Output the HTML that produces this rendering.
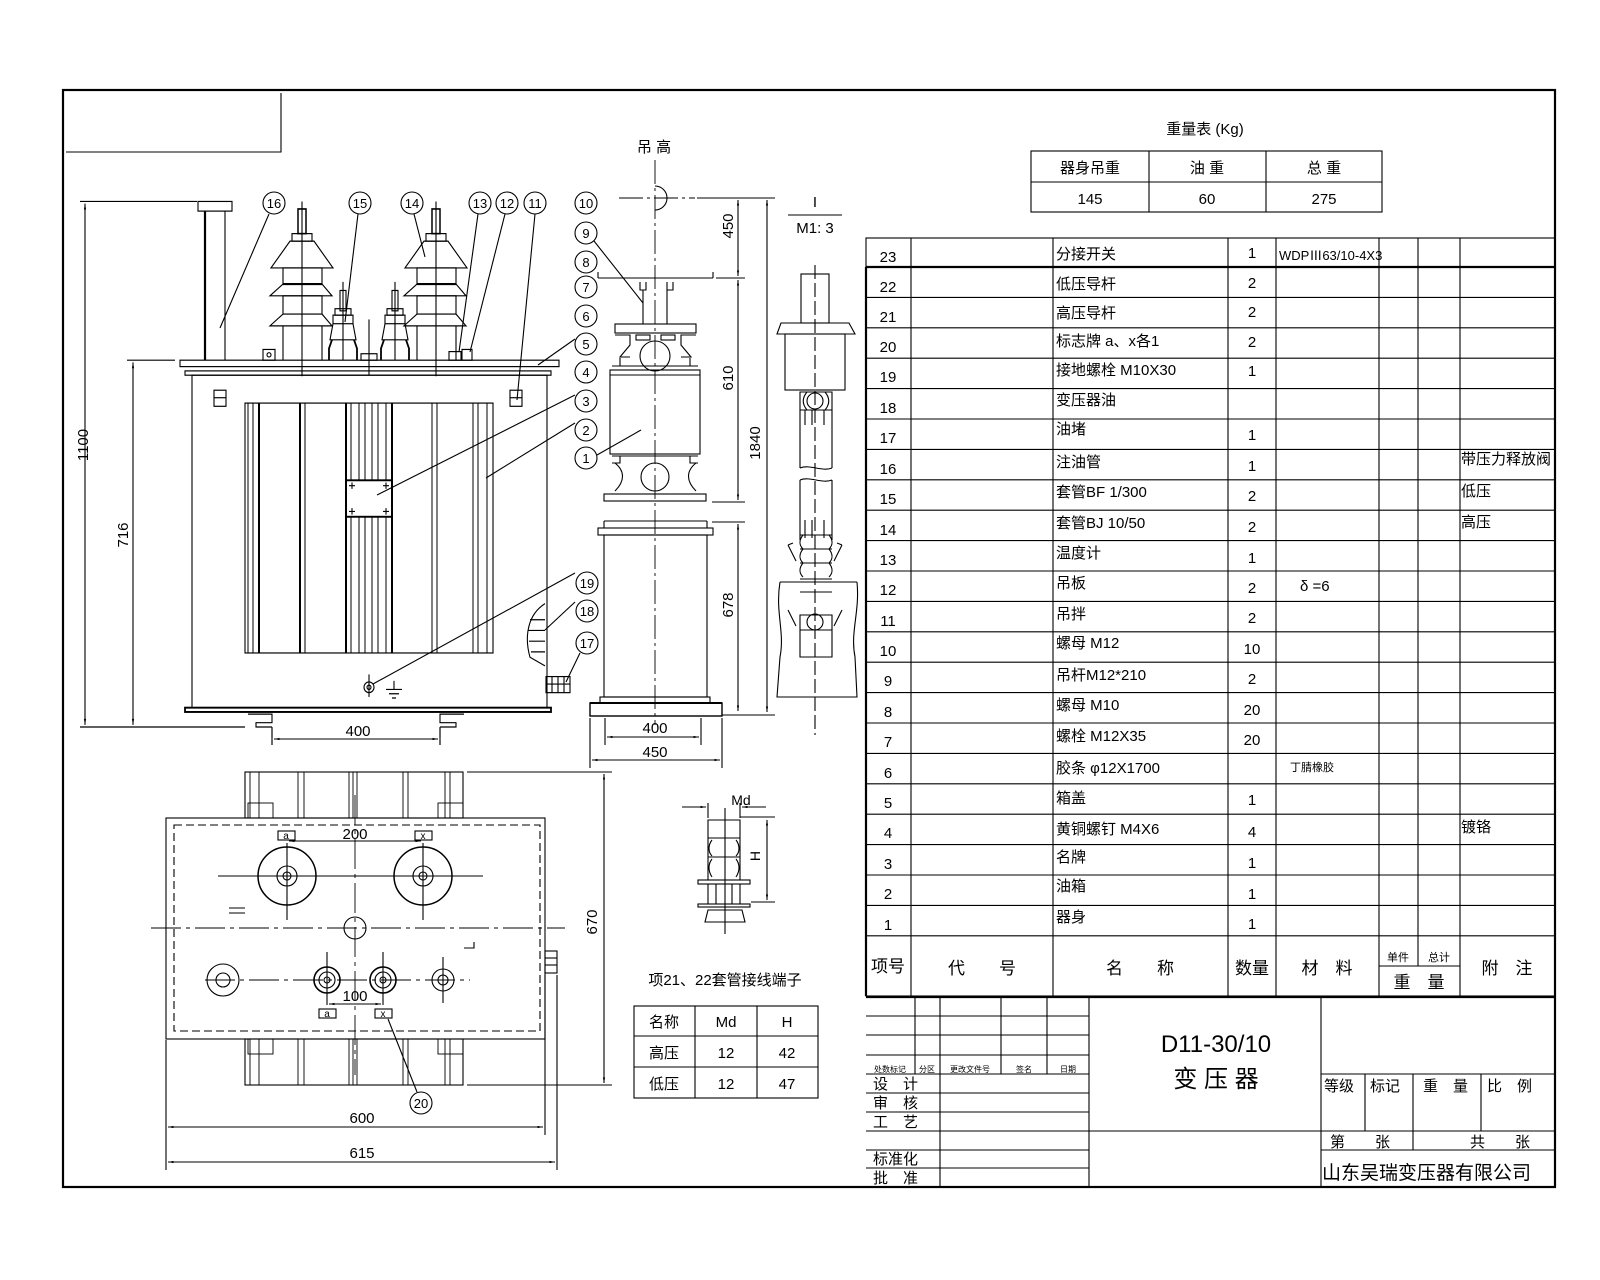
<!DOCTYPE html>
<html><head><meta charset="utf-8"><style>
html,body{margin:0;padding:0;background:#fff;}
svg{display:block;}
text{font-family:"Liberation Sans","Noto Sans CJK SC",sans-serif;fill:#000;}
</style></head><body>
<svg width="1600" height="1280" viewBox="0 0 1600 1280" xmlns="http://www.w3.org/2000/svg">
<defs>
<marker id="a" viewBox="0 0 10 10" refX="10" refY="5" markerWidth="8" markerHeight="5" orient="auto-start-reverse"><path d="M0,3 L10,5 L0,7z" fill="#000"/></marker>
</defs>
<g stroke="#000" fill="none" stroke-width="1.1">
<!-- border -->
<rect x="63" y="90" width="1492" height="1097" stroke-width="2.2"/>
<polyline points="66,152 281,152 281,93"/>

<!-- ========== FRONT VIEW ========== -->
<g transform="translate(0,180) scale(1,1.0725) translate(0,-180)">
<line x1="80" y1="200" x2="197" y2="200"/>
<line x1="80" y1="690" x2="245" y2="690"/>
<line x1="85" y1="202" x2="85" y2="688" marker-start="url(#a)" marker-end="url(#a)"/>
<line x1="127" y1="348" x2="175" y2="348"/>
<line x1="133" y1="350" x2="133" y2="688" marker-start="url(#a)" marker-end="url(#a)"/>
<rect x="198" y="200" width="34" height="9"/>
<line x1="205" y1="209" x2="205" y2="348" stroke-width="2.2"/>
<line x1="225" y1="209" x2="225" y2="348"/>
<rect x="180" y="348" width="379" height="6"/>
<rect x="185" y="358" width="366" height="4"/>
<rect x="192" y="362" width="355" height="310"/>
<rect x="185" y="672" width="366" height="4" stroke-width="1.8"/>
<path d="M248,678 h24 v8 h-16 v4 h16 M464,678 h-24 v8 h16 v4 h-16"/>
<line x1="272" y1="690" x2="272" y2="700"/><line x1="440" y1="690" x2="440" y2="700"/>
<rect x="245" y="388" width="248" height="233"/>
<g stroke-width="1">
<line x1="248" y1="388" x2="248" y2="621"/><line x1="253" y1="388" x2="253" y2="621"/><line x1="259" y1="388" x2="259" y2="621" stroke-width="2"/>
<line x1="300" y1="388" x2="300" y2="621" stroke-width="2"/><line x1="305" y1="388" x2="305" y2="621"/>
<line x1="346" y1="388" x2="346" y2="621" stroke-width="2"/><line x1="351" y1="388" x2="351" y2="460"/><line x1="359" y1="388" x2="359" y2="460"/><line x1="365" y1="388" x2="365" y2="460"/><line x1="372" y1="388" x2="372" y2="460"/><line x1="378" y1="388" x2="378" y2="460"/><line x1="386" y1="388" x2="386" y2="460"/><line x1="392" y1="388" x2="392" y2="621" stroke-width="2"/>
<line x1="351" y1="494" x2="351" y2="621"/><line x1="359" y1="494" x2="359" y2="621"/><line x1="365" y1="494" x2="365" y2="621"/><line x1="372" y1="494" x2="372" y2="621"/><line x1="378" y1="494" x2="378" y2="621"/><line x1="386" y1="494" x2="386" y2="621"/>
<line x1="432" y1="388" x2="432" y2="621"/><line x1="437" y1="388" x2="437" y2="621"/>
<line x1="473" y1="388" x2="473" y2="621"/><line x1="478" y1="388" x2="478" y2="621"/><line x1="487" y1="388" x2="487" y2="621"/>
</g>
<rect x="346" y="460" width="46" height="34" stroke-width="1.8"/>
<path d="M349,465h6M352,462v6M383,465h6M386,462v6M349,489h6M352,486v6M383,489h6M386,486v6"/>
<rect x="214" y="376" width="12" height="15"/><line x1="214" y1="383" x2="226" y2="383"/>
<rect x="510" y="376" width="12" height="15"/><line x1="510" y1="383" x2="522" y2="383"/>
<circle cx="369" cy="653" r="5"/><circle cx="369" cy="653" r="2"/><line x1="369" y1="641" x2="369" y2="662"/>
<path d="M394,647v8M386,655h16M389,659h10M392,663h4"/>
<path d="M545,575 C528,585 524,605 530,625 L545,633"/>
<path d="M530,590h15M528,600h17M529,610h16M531,620h14"/>
<rect x="546" y="643" width="24" height="15"/><path d="M552,643v15M558,643v15M564,643v15M546,650h24"/>
<g id="hv">
<rect x="298" y="207" width="8" height="23" stroke-width="1.5"/>
<rect x="292" y="230" width="20" height="7"/>
<path d="M290,237 h24 l19,25 h-62z"/>
<rect x="283" y="262" width="39" height="15"/><line x1="283" y1="277" x2="322" y2="277" stroke-width="2"/>
<path d="M283,277 l-13,11 h62 l-10,-11"/>
<rect x="283" y="288" width="39" height="17"/>
<path d="M283,305 l-13,11 h62 l-10,-11"/>
<line x1="283" y1="316" x2="283" y2="348"/><line x1="322" y1="316" x2="322" y2="348"/>
<line x1="302" y1="200" x2="302" y2="363"/>
</g>
<use href="#hv" transform="translate(134,0)"/>
<g id="lv">
<rect x="340" y="283" width="6" height="19"/>
<rect x="335" y="300" width="16" height="6"/><rect x="333" y="306" width="20" height="8"/>
<path d="M333,314 l-3,15 h26 l-3,-15"/>
<path d="M332,329 l-3,8 v11 M354,329 l3,8 v11" stroke-width="1.8"/>
<line x1="343" y1="275" x2="343" y2="348"/>
</g>
<use href="#lv" transform="translate(52,0)"/>
<rect x="263" y="338" width="12" height="10"/><circle cx="269" cy="343" r="2"/>
<rect x="361" y="342" width="16" height="6"/><line x1="369" y1="310" x2="369" y2="362"/>
<rect x="449" y="340" width="12" height="8"/><rect x="462" y="338" width="10" height="10"/>
</g>
<!-- 400 dim -->
<line x1="272" y1="740" x2="272" y2="745"/><line x1="440" y1="740" x2="440" y2="745"/>
<line x1="272" y1="728" x2="272" y2="745"/><line x1="440" y1="728" x2="440" y2="745"/>
<line x1="274" y1="739" x2="438" y2="739" marker-start="url(#a)" marker-end="url(#a)"/>
<!-- callouts front -->
<g>
<circle cx="274" cy="203" r="11"/><circle cx="360" cy="203" r="11"/><circle cx="412" cy="203" r="11"/>
<circle cx="480" cy="203" r="11"/><circle cx="507" cy="203" r="11"/><circle cx="535" cy="203" r="11"/>
<line x1="269" y1="214" x2="220" y2="328"/><line x1="358" y1="214" x2="345" y2="322"/>
<line x1="414" y1="214" x2="425" y2="257"/><line x1="478" y1="214" x2="459" y2="352"/>
<line x1="505" y1="214" x2="470" y2="352"/><line x1="535" y1="214" x2="517" y2="400"/>
<line x1="575" y1="339" x2="538" y2="365"/><line x1="575" y1="395" x2="377" y2="495"/>
<line x1="575" y1="423" x2="486" y2="478"/><line x1="575" y1="573" x2="373" y2="684"/>
<line x1="575" y1="602" x2="545" y2="630"/><line x1="580" y1="653" x2="566" y2="682"/>
</g>

<!-- ========== SECTION VIEW ========== -->
<g stroke-dasharray="24,4,3,4" stroke-width="0.9">
<line x1="655" y1="160" x2="655" y2="725"/>
<line x1="619" y1="198" x2="695" y2="198"/>
</g>
<path d="M655,186 a12,12 0 0 1 0,24" />
<line x1="697" y1="198" x2="775" y2="198"/>
<line x1="598" y1="278" x2="713" y2="278"/><line x1="716" y1="278" x2="745" y2="278"/>
<line x1="598" y1="272" x2="598" y2="278"/><line x1="713" y1="272" x2="713" y2="278"/>
<line x1="738" y1="200" x2="738" y2="276" marker-start="url(#a)" marker-end="url(#a)"/>
<line x1="738" y1="280" x2="738" y2="500" marker-start="url(#a)" marker-end="url(#a)"/>
<line x1="767" y1="200" x2="767" y2="712" marker-start="url(#a)" marker-end="url(#a)"/>
<line x1="712" y1="502" x2="745" y2="502"/><line x1="712" y1="522" x2="745" y2="522"/>
<line x1="738" y1="524" x2="738" y2="711" marker-start="url(#a)" marker-end="url(#a)"/>
<line x1="722" y1="715" x2="775" y2="715"/>
<path d="M640,282v8h6v-8M667,282v8h6v-8"/>
<line x1="643" y1="290" x2="643" y2="324"/><line x1="667" y1="290" x2="667" y2="324"/>
<rect x="615" y="324" width="81" height="9"/>
<rect x="636" y="335" width="14" height="5"/><rect x="661" y="335" width="14" height="5"/>
<path d="M615,335h15v10l-10,12h10 M696,335h-15v10l10,12h-10"/>
<circle cx="655" cy="356" r="15"/>
<path d="M620,358v8h-5 M690,358v8h5 M612,366h86"/>
<rect x="610" y="370" width="90" height="84"/><line x1="610" y1="375" x2="700" y2="375"/>
<path d="M612,456h86 M620,456v7h-8 M690,456v7h8"/>
<circle cx="655" cy="477" r="14"/>
<path d="M615,463 c10,8 10,18 0,28 M696,463 c-10,8 -10,18 0,28"/>
<rect x="604" y="494" width="102" height="7"/>
<line x1="604" y1="521" x2="707" y2="521"/><line x1="604" y1="521" x2="604" y2="528"/><line x1="707" y1="521" x2="707" y2="528"/>
<rect x="598" y="528" width="115" height="7"/>
<rect x="604" y="535" width="103" height="162"/>
<rect x="600" y="697" width="110" height="6"/>
<rect x="590" y="703" width="132" height="13" stroke-width="1.4"/>
<line x1="590" y1="703" x2="722" y2="703" stroke-width="2"/>
<line x1="605" y1="718" x2="605" y2="745"/><line x1="701" y1="718" x2="701" y2="745"/>
<line x1="607" y1="737" x2="699" y2="737" marker-start="url(#a)" marker-end="url(#a)"/>
<line x1="590" y1="718" x2="590" y2="768"/><line x1="722" y1="718" x2="722" y2="768"/>
<line x1="592" y1="760" x2="720" y2="760" marker-start="url(#a)" marker-end="url(#a)"/>
<g>
<circle cx="586" cy="203" r="11"/><circle cx="586" cy="233" r="11"/><circle cx="586" cy="262" r="11"/>
<circle cx="586" cy="287" r="11"/><circle cx="586" cy="316" r="11"/><circle cx="586" cy="344" r="11"/>
<circle cx="586" cy="372" r="11"/><circle cx="586" cy="401" r="11"/><circle cx="586" cy="430" r="11"/>
<circle cx="586" cy="458" r="11"/>
<circle cx="587" cy="583" r="11"/><circle cx="587" cy="611" r="11"/><circle cx="587" cy="643" r="11"/>
<line x1="594" y1="241" x2="643" y2="303"/><line x1="597" y1="455" x2="641" y2="430"/>
</g>
<!-- detail I -->
<line x1="788" y1="215" x2="842" y2="215"/>
<line x1="815" y1="265" x2="815" y2="735" stroke-dasharray="14,4"/>
<rect x="801" y="274" width="28" height="49"/>
<path d="M781,323 h68 l6,11 h-78z"/>
<rect x="785" y="334" width="60" height="56"/>
<path d="M800,392 h32 v18 h-32z M807,392 c-5,6 -5,12 0,18 M825,392 c5,6 5,12 0,18"/><circle cx="815" cy="401" r="8"/>
<path d="M800,410 v58 M832,410 v58 M805,410v15 M812,410v15 M824,410v15"/>
<path d="M800,468 c10,-4 22,4 32,0 M800,480 c10,-4 22,4 32,0"/>
<path d="M800,480 v60 M832,480 v60 M805,520 v18 M812,520 v18 M824,520 v18"/>
<path d="M800,535 h32 M800,549 h32 M800,563 h32 M800,579 h32 M800,592 h32"/>
<path d="M788,545 l8,16 M842,545 l-8,16 M788,545 l5,-2 M842,545 l-5,-2"/>
<path d="M803,535 c-4,5 -4,10 0,14 M829,535 c4,5 4,10 0,14 M803,549 c-4,5 -4,10 0,14 M829,549 c4,5 4,10 0,14 M803,563 c-4,5 -4,10 0,14 M829,563 c4,5 4,10 0,14"/>
<path d="M780,582 h77 M780,582 c-5,30 5,50 0,75 l-3,40 h80 l-2,-40 c-5,-25 5,-45 2,-75"/>
<path d="M788,610 l8,16 M842,610 l-8,16 M800,615 h32 v42 h-32z M800,630 h32 M805,657 h22"/>
<circle cx="815" cy="622" r="8"/>

<!-- ========== PLAN VIEW ========== -->
<rect x="245" y="772" width="218" height="46"/>
<rect x="245" y="1039" width="218" height="46"/>
<g stroke-width="0.9">
<path d="M250,772v46M259,772v46M298,772v46M304,772v46M349,772v46M353,772v46M357,772v46M403,772v46M408,772v46M445,772v46M450,772v46"/>
<path d="M250,1039v46M259,1039v46M298,1039v46M304,1039v46M349,1039v46M353,1039v46M357,1039v46M403,1039v46M408,1039v46M445,1039v46M450,1039v46"/>
<rect x="248" y="803" width="25" height="15"/><rect x="438" y="803" width="25" height="15"/>
<rect x="248" y="1039" width="25" height="15"/><rect x="438" y="1039" width="25" height="15"/>
</g>
<rect x="166" y="818" width="379" height="221"/>
<rect x="174" y="825" width="366" height="206" stroke-dasharray="8,4"/>
<g stroke-dasharray="30,5,4,5" stroke-width="0.9">
<line x1="151" y1="928" x2="565" y2="928"/>
<line x1="355" y1="795" x2="355" y2="1075"/>
<line x1="205" y1="980" x2="470" y2="980"/>
</g>
<circle cx="287" cy="876" r="29" stroke-width="1.5"/><circle cx="287" cy="876" r="10"/><circle cx="287" cy="876" r="4"/>
<circle cx="423" cy="876" r="29" stroke-width="1.5"/><circle cx="423" cy="876" r="10"/><circle cx="423" cy="876" r="4"/>
<line x1="218" y1="876" x2="483" y2="876"/><line x1="287" y1="843" x2="287" y2="920"/><line x1="423" y1="843" x2="423" y2="920"/>
<circle cx="355" cy="928" r="11"/>
<circle cx="223" cy="980" r="16"/><circle cx="223" cy="980" r="7"/>
<circle cx="327" cy="980" r="13" stroke-width="1.6"/><circle cx="327" cy="980" r="8"/><circle cx="327" cy="980" r="3"/>
<circle cx="383" cy="980" r="13" stroke-width="1.6"/><circle cx="383" cy="980" r="8"/><circle cx="383" cy="980" r="3"/>
<circle cx="443" cy="980" r="11"/><circle cx="443" cy="980" r="5"/>
<line x1="327" y1="952" x2="327" y2="1005"/><line x1="383" y1="952" x2="383" y2="1005"/><line x1="443" y1="957" x2="443" y2="1003"/>
<path d="M229,908h16M229,913h16 M464,948h10v-6"/>
<rect x="278" y="831" width="17" height="9"/><rect x="415" y="831" width="17" height="9"/>
<line x1="289" y1="841" x2="421" y2="841" marker-start="url(#a)" marker-end="url(#a)"/>
<rect x="319" y="1009" width="17" height="9"/><rect x="375" y="1009" width="17" height="9"/>
<line x1="329" y1="1004" x2="381" y2="1004" marker-start="url(#a)" marker-end="url(#a)"/>
<rect x="545" y="951" width="12" height="22"/><line x1="545" y1="958" x2="557" y2="958"/><line x1="545" y1="965" x2="557" y2="965"/>
<line x1="467" y1="772" x2="612" y2="772"/><line x1="467" y1="1085" x2="612" y2="1085"/>
<line x1="604" y1="774" x2="604" y2="1083" marker-start="url(#a)" marker-end="url(#a)"/>
<line x1="166" y1="1040" x2="166" y2="1170"/><line x1="545" y1="975" x2="545" y2="1135"/><line x1="557" y1="975" x2="557" y2="1170"/>
<line x1="168" y1="1127" x2="543" y2="1127" marker-start="url(#a)" marker-end="url(#a)"/>
<line x1="168" y1="1162" x2="555" y2="1162" marker-start="url(#a)" marker-end="url(#a)"/>
<circle cx="421" cy="1103" r="11"/><line x1="388" y1="1019" x2="417" y2="1092"/>

<!-- Md detail -->
<line x1="682" y1="807" x2="706" y2="807" marker-end="url(#a)"/><line x1="766" y1="807" x2="742" y2="807" marker-end="url(#a)"/>
<line x1="708" y1="803" x2="708" y2="818"/><line x1="740" y1="803" x2="740" y2="818"/>
<line x1="740" y1="817" x2="775" y2="817"/><line x1="751" y1="902" x2="775" y2="902"/>
<line x1="767" y1="820" x2="767" y2="900" marker-start="url(#a)" marker-end="url(#a)"/>
<path d="M708,820 h32 v60 h-32z M708,838 h32 M708,857 h32"/>
<path d="M712,840 c-4,5 -4,12 0,16 M736,840 c4,5 4,12 0,16 M712,859 c-4,5 -4,12 0,18 M736,859 c4,5 4,12 0,18"/>
<rect x="698" y="880" width="52" height="4"/><rect x="698" y="904" width="52" height="3"/>
<path d="M708,884v20 M740,884v20 M716,884v20 M732,884v20 M708,910 l-3,12 h40 l-3,-12z"/>
<line x1="725" y1="808" x2="725" y2="934"/>

<!-- terminal table -->
<rect x="634" y="1006" width="184" height="92"/>
<line x1="634" y1="1036" x2="818" y2="1036"/><line x1="634" y1="1067" x2="818" y2="1067"/>
<line x1="695" y1="1006" x2="695" y2="1098"/><line x1="757" y1="1006" x2="757" y2="1098"/>

<!-- weight table -->
<rect x="1031" y="151" width="351" height="61"/>
<line x1="1031" y1="182" x2="1382" y2="182"/><line x1="1149" y1="151" x2="1149" y2="212"/><line x1="1266" y1="151" x2="1266" y2="212"/>

<!-- parts list -->
<rect x="866" y="238" width="689" height="758"/>
<line x1="866" y1="267" x2="1555" y2="267" stroke-width="2.2"/>
<line x1="866" y1="267" x2="866" y2="996" stroke-width="2.2"/>
<g>
<line x1="866" y1="297.4" x2="1555" y2="297.4"/><line x1="866" y1="327.8" x2="1555" y2="327.8"/><line x1="866" y1="358.2" x2="1555" y2="358.2"/>
<line x1="866" y1="388.6" x2="1555" y2="388.6"/><line x1="866" y1="419" x2="1555" y2="419"/><line x1="866" y1="449.4" x2="1555" y2="449.4"/>
<line x1="866" y1="479.8" x2="1555" y2="479.8"/><line x1="866" y1="510.2" x2="1555" y2="510.2"/><line x1="866" y1="540.6" x2="1555" y2="540.6"/>
<line x1="866" y1="571" x2="1555" y2="571"/><line x1="866" y1="601.4" x2="1555" y2="601.4"/><line x1="866" y1="631.8" x2="1555" y2="631.8"/>
<line x1="866" y1="662.2" x2="1555" y2="662.2"/><line x1="866" y1="692.6" x2="1555" y2="692.6"/><line x1="866" y1="723" x2="1555" y2="723"/>
<line x1="866" y1="753.4" x2="1555" y2="753.4"/><line x1="866" y1="783.8" x2="1555" y2="783.8"/><line x1="866" y1="814.2" x2="1555" y2="814.2"/>
<line x1="866" y1="844.6" x2="1555" y2="844.6"/><line x1="866" y1="875" x2="1555" y2="875"/><line x1="866" y1="905.4" x2="1555" y2="905.4"/>
<line x1="866" y1="935.8" x2="1555" y2="935.8"/>
</g>
<path d="M911,238v758 M1053,238v758 M1228,238v758 M1276,238v758 M1379,238v758 M1418,238v728 M1460,238v758"/>
<line x1="1379" y1="966" x2="1460" y2="966"/>
<!-- title block -->
<line x1="866" y1="997" x2="1555" y2="997" stroke-width="2.2"/>
<path d="M866,1016h223 M866,1035h223 M866,1055h223 M866,1074h223 M866,1093h223 M866,1112h223 M866,1131h223 M866,1150h223 M866,1168h223"/>
<path d="M915,997v77 M940,997v190 M1001,997v77 M1047,997v77 M1089,997v190 M1321,997v190"/>
<path d="M1089,1131h466 M1321,1074h234 M1321,1150h234 M1365,1074v57 M1413,1074v76 M1481,1074v57"/>
</g>

<!-- ========== TEXT ========== -->
<g font-size="15">
<text x="88" y="445" transform="rotate(-90 88 445)" text-anchor="middle">1100</text>
<text x="128" y="535" transform="rotate(-90 128 535)" text-anchor="middle">716</text>
<text x="358" y="736" text-anchor="middle">400</text>
<text x="745" y="238" transform="rotate(-90 733 238)" text-anchor="middle">450</text>
<text x="745" y="390" transform="rotate(-90 733 390)" text-anchor="middle">610</text>
<text x="772" y="455" transform="rotate(-90 760 455)" text-anchor="middle">1840</text>
<text x="745" y="617" transform="rotate(-90 733 617)" text-anchor="middle">678</text>
<text x="655" y="733" text-anchor="middle">400</text>
<text x="655" y="757" text-anchor="middle">450</text>
<text x="355" y="839" text-anchor="middle">200</text>
<text x="355" y="1001" text-anchor="middle">100</text>
<text x="362" y="1123" text-anchor="middle">600</text>
<text x="362" y="1158" text-anchor="middle">615</text>
<text x="603" y="928" transform="rotate(-90 597 928)" text-anchor="middle">670</text>
<text x="741" y="805" text-anchor="middle" font-size="14">Md</text>
<text x="766" y="862" transform="rotate(-90 760 862)" text-anchor="middle" font-size="14">H</text>
<text x="654" y="152" text-anchor="middle">吊 高</text>
<text x="815" y="207" text-anchor="middle">I</text>
<text x="815" y="233" text-anchor="middle">M1: 3</text>
<text x="725" y="985" text-anchor="middle">项21、22套管接线端子</text>
</g>
<g font-size="10" text-anchor="middle">
<text x="286" y="839">a</text><text x="423" y="839">x</text><text x="327" y="1017">a</text><text x="383" y="1017">x</text>
</g>
<g font-size="13" text-anchor="middle">
<text x="274" y="208">16</text><text x="360" y="208">15</text><text x="412" y="208">14</text><text x="480" y="208">13</text><text x="507" y="208">12</text><text x="535" y="208">11</text>
<text x="586" y="208">10</text><text x="586" y="238">9</text><text x="586" y="267">8</text><text x="586" y="292">7</text><text x="586" y="321">6</text><text x="586" y="349">5</text><text x="586" y="377">4</text><text x="586" y="406">3</text><text x="586" y="435">2</text><text x="586" y="463">1</text>
<text x="587" y="588">19</text><text x="587" y="616">18</text><text x="587" y="648">17</text><text x="421" y="1108">20</text>
</g>
<g font-size="15" text-anchor="middle">
<text x="664" y="1027">名称</text><text x="726" y="1027">Md</text><text x="787" y="1027">H</text>
<text x="664" y="1058">高压</text><text x="726" y="1058">12</text><text x="787" y="1058">42</text>
<text x="664" y="1089">低压</text><text x="726" y="1089">12</text><text x="787" y="1089">47</text>
<text x="1205" y="134">重量表 (Kg)</text>
<text x="1090" y="173">器身吊重</text><text x="1207" y="173">油 重</text><text x="1324" y="173">总 重</text>
<text x="1090" y="204">145</text><text x="1207" y="204">60</text><text x="1324" y="204">275</text>
</g>
<g font-size="15">
<g text-anchor="middle">
<text x="888" y="262">23</text><text x="888" y="292">22</text><text x="888" y="322">21</text><text x="888" y="352">20</text><text x="888" y="382">19</text><text x="888" y="413">18</text><text x="888" y="443">17</text><text x="888" y="474">16</text><text x="888" y="504">15</text><text x="888" y="535">14</text><text x="888" y="565">13</text><text x="888" y="595">12</text><text x="888" y="626">11</text><text x="888" y="656">10</text><text x="888" y="686">9</text><text x="888" y="717">8</text><text x="888" y="747">7</text><text x="888" y="778">6</text><text x="888" y="808">5</text><text x="888" y="838">4</text><text x="888" y="869">3</text><text x="888" y="899">2</text><text x="888" y="930">1</text>
<text x="1252" y="258">1</text><text x="1252" y="288">2</text><text x="1252" y="317">2</text><text x="1252" y="347">2</text><text x="1252" y="376">1</text><text x="1252" y="440">1</text><text x="1252" y="471">1</text><text x="1252" y="501">2</text><text x="1252" y="532">2</text><text x="1252" y="563">1</text><text x="1252" y="593">2</text><text x="1252" y="623">2</text><text x="1252" y="654">10</text><text x="1252" y="684">2</text><text x="1252" y="715">20</text><text x="1252" y="745">20</text><text x="1252" y="805">1</text><text x="1252" y="837">4</text><text x="1252" y="868">1</text><text x="1252" y="899">1</text><text x="1252" y="929">1</text>
</g>
<text x="1056" y="259">分接开关</text><text x="1056" y="289">低压导杆</text><text x="1056" y="318">高压导杆</text><text x="1056" y="346">标志牌  a、x各1</text><text x="1056" y="375">接地螺栓 M10X30</text><text x="1056" y="405">变压器油</text><text x="1056" y="434">油堵</text><text x="1056" y="467">注油管</text><text x="1056" y="497">套管BF 1/300</text><text x="1056" y="528">套管BJ 10/50</text><text x="1056" y="558">温度计</text><text x="1056" y="588">吊板</text><text x="1056" y="619">吊拌</text><text x="1056" y="648">螺母 M12</text><text x="1056" y="680">吊杆M12*210</text><text x="1056" y="710">螺母 M10</text><text x="1056" y="741">螺栓 M12X35</text><text x="1056" y="773">胶条 φ12X1700</text><text x="1056" y="803">箱盖</text><text x="1056" y="834">黄铜螺钉 M4X6</text><text x="1056" y="862">名牌</text><text x="1056" y="891">油箱</text><text x="1056" y="922">器身</text>
<text x="1279" y="260" font-size="13">WDPⅢ63/10-4X3</text>
<text x="1300" y="591">δ =6</text>
<text x="1290" y="771" font-size="11">丁腈橡胶</text>
<text x="1461" y="464">带压力释放阀</text><text x="1461" y="496">低压</text><text x="1461" y="527">高压</text><text x="1461" y="832">镀铬</text>
</g>
<g font-size="17" text-anchor="middle">
<text x="888" y="972">项号</text><text x="982" y="974">代　　号</text><text x="1140" y="974">名　　称</text><text x="1252" y="974">数量</text><text x="1327" y="974">材　料</text><text x="1419" y="988">重　量</text><text x="1507" y="974">附　注</text>
<text x="1398" y="961" font-size="11">单件</text><text x="1439" y="961" font-size="11">总计</text>
</g>
<g font-size="8" text-anchor="middle"><text x="890" y="1072">处数标记</text><text x="927" y="1072">分区</text><text x="970" y="1072">更改文件号</text><text x="1024" y="1072">签名</text><text x="1068" y="1072">日期</text></g>
<g font-size="15">
<text x="873" y="1089">设　计</text><text x="873" y="1108">审　核</text><text x="873" y="1127">工　艺</text><text x="873" y="1164">标准化</text><text x="873" y="1183">批　准</text>
<text x="1324" y="1091">等级</text><text x="1370" y="1091">标记</text><text x="1423" y="1091">重　量</text><text x="1487" y="1091">比　例</text>
<text x="1330" y="1147">第　　张</text><text x="1470" y="1147">共　　张</text>
<text x="1322" y="1179" font-size="19">山东吴瑞变压器有限公司</text>
</g>
<text x="1216" y="1052" font-size="24" text-anchor="middle" font-family="Liberation Serif, serif">D11-30/10</text>
<text x="1216" y="1087" font-size="24" text-anchor="middle">变 压 器</text>
</svg>
</body></html>
